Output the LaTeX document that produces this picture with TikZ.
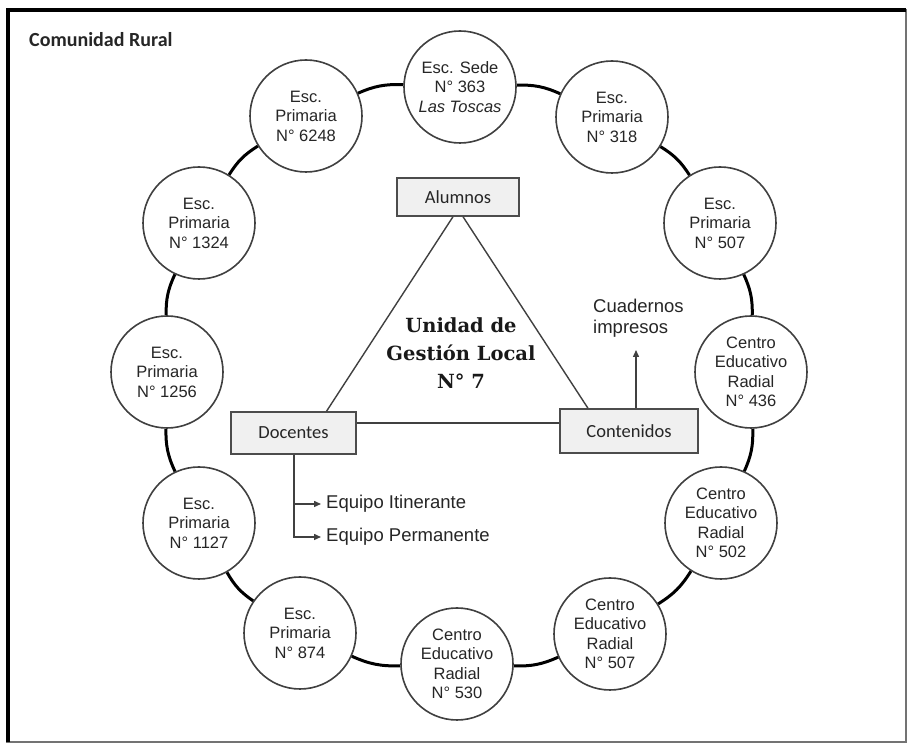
\documentclass[tikz,border=0pt]{standalone}
\usepackage{fontspec}
\setmainfont{Liberation Sans}
\newfontfamily\calib{Carlito}
\newfontfamily\serifb{DejaVu Serif}
\usetikzlibrary{arrows.meta,calc}
\begin{document}
\begin{tikzpicture}[x=1pt,y=1pt,
 school/.style={circle,draw=black!75,line width=1.6pt,fill=white,minimum size=112pt,inner sep=0pt,align=center,text=black!85,font=\fontsize{16.5}{19.5}\selectfont},
 ring/.style={line width=3pt,draw=black},
 box/.style={draw=black!70,line width=1.4pt,fill=black!6,inner sep=0pt,font=\calib\fontsize{18.5}{20}\selectfont,text=black!85},
 link/.style={draw=black!75,line width=1.4pt},
 arr/.style={link,-{Triangle[length=7pt,width=6pt]}},
 lbl/.style={font=\fontsize{18.5}{20.5}\selectfont,text=black!85,align=left,inner sep=0pt}
]
\useasboundingbox (0,0) rectangle (908,744);
\fill[white] (0,0) rectangle (908,744);
\draw[black!55,line width=1.2pt] (7,2) rectangle (906,734);
\draw[black,line width=3.5pt] (8,2) -- (8,734) -- (906,734);

\node[anchor=west,inner sep=0pt,font=\calib\bfseries\fontsize{20}{22}\selectfont,text=black!85] (title) at (29,704) {Comunidad Rural};

\node[school] (c1) at (460,657) {Esc. Sede\\N° 363\\\textit{Las Toscas}};
\node[school] (c2) at (612,627) {Esc.\\Primaria\\N° 318};
\node[school] (c3) at (720,521) {Esc.\\Primaria\\N° 507};
\node[school] (c4) at (751,372) {Centro\\Educativo\\Radial\\N° 436};
\node[school] (c5) at (721,221) {Centro\\Educativo\\Radial\\N° 502};
\node[school] (c6) at (610,110) {Centro\\Educativo\\Radial\\N° 507};
\node[school] (c7) at (457,80) {Centro\\Educativo\\Radial\\N° 530};
\node[school] (c8) at (300,111) {Esc.\\Primaria\\N° 874};
\node[school] (c9) at (199,221) {Esc.\\Primaria\\N° 1127};
\node[school] (c10) at (167,372) {Esc.\\Primaria\\N° 1256};
\node[school] (c11) at (199,521) {Esc.\\Primaria\\N° 1324};
\node[school] (c12) at (306,628) {Esc.\\Primaria\\N° 6248};

\foreach \a/\b in {c1/c2,c2/c3,c3/c4,c4/c5,c5/c6,c6/c7,c7/c8,c8/c9,c9/c10,c10/c11,c11/c12,c12/c1}
  \draw[ring] (\a) to[bend left=13] (\b);

\node[box,minimum width=122pt,minimum height=38pt] (alumnos) at (458,547) {Alumnos};
\node[box,minimum width=125pt,minimum height=42pt] (docentes) at (293.5,311) {Docentes};
\node[box,minimum width=138pt,minimum height=44pt] (contenidos) at (629,313) {Contenidos};

\node[align=center,inner sep=0pt,font=\serifb\bfseries\fontsize{19.5}{28}\selectfont,text=black!90] (ugl) at (461,391) {Unidad de\\Gestión Local\\N° 7};

\draw[link] ([xshift=-5pt]alumnos.south) -- ([xshift=33pt]docentes.north);
\draw[link] ([xshift=5pt]alumnos.south) -- ([xshift=-41pt]contenidos.north);
\draw[link] ([yshift=10pt]docentes.east) -- ([yshift=10pt]docentes.east -| contenidos.west);

\node[lbl,anchor=west] (cuad) at (593,426) {Cuadernos\\impresos};
\coordinate (cuadtip) at (636,394);
\draw[arr] ([xshift=7pt]contenidos.north) -- (cuadtip);

\node[lbl,anchor=west] (eit) at (326,240) {Equipo Itinerante};
\node[lbl,anchor=west] (eper) at (326,207) {Equipo Permanente};
\draw[arr] ([xshift=0.5pt]docentes.south) |- ([xshift=-5pt]eit.west);
\draw[arr] ([xshift=0.5pt]docentes.south) |- ([xshift=-5pt]eper.west);
\end{tikzpicture}
\end{document}
